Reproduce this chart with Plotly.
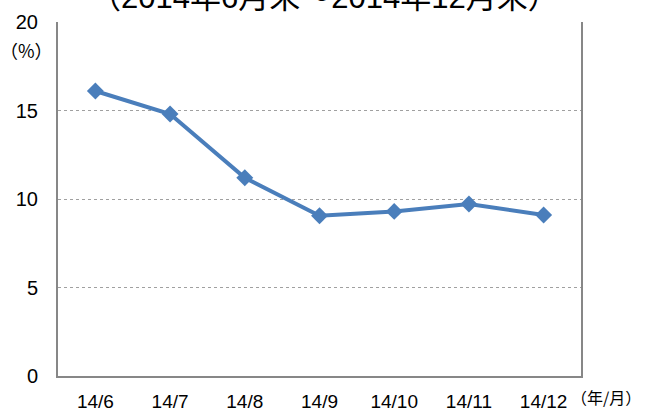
import plotly.graph_objects as go

categories = ["14/6", "14/7", "14/8", "14/9", "14/10", "14/11", "14/12"]
values = [16.1, 14.8, 11.2, 9.05, 9.3, 9.72, 9.1]
y_ticks = [0, 5, 10, 15, 20]
title_text = "（2014年6月末～2014年12月末）"
y_unit = "（%）"
x_unit = "（年/月）"

FONT = "Liberation Sans, Arial, Noto Sans CJK JP, sans-serif"
CJK = "Noto Sans CJK JP, Liberation Sans, sans-serif"

fig = go.Figure()
fig.add_trace(go.Scatter(
    x=categories, y=values, mode="lines+markers",
    line=dict(color="#4A7EBB", width=4),
    marker=dict(symbol="diamond", size=13, color="#4A7EBB"),
    showlegend=False,
))

fig.update_layout(
    width=649, height=411,
    margin=dict(l=58, r=68, t=22, b=35),
    paper_bgcolor="white", plot_bgcolor="white",
    font=dict(family=FONT, color="black"),
    xaxis=dict(
        type="category", range=[-0.5, 6.5], automargin=False,
        showgrid=False, showline=True, linecolor="#878787", linewidth=2,
        ticks="", tickfont=dict(size=19), ticklabelstandoff=7,
    ),
    yaxis=dict(
        range=[0, 20], tickvals=y_ticks, automargin=False,
        showgrid=True, gridcolor="#A0A0A0", griddash="dot", gridwidth=1,
        showline=True, linecolor="#878787", linewidth=2, mirror=True,
        zeroline=False, ticks="", tickfont=dict(size=20), ticklabelstandoff=14,
    ),
)

fig.add_annotation(
    text=title_text, xref="paper", yref="paper", x=0.51, y=1.0,
    yshift=5, xanchor="center", yanchor="bottom",
    showarrow=False, font=dict(size=31, family=FONT),
)
fig.add_annotation(
    text=y_unit, xref="paper", yref="paper", x=0, y=1.0, xshift=-3, yshift=-28,
    xanchor="right", yanchor="middle", showarrow=False,
    font=dict(size=18, family=CJK),
)
fig.add_annotation(
    text=x_unit, xref="paper", yref="paper", x=1.0, y=0, xshift=-12, yshift=-21,
    xanchor="left", yanchor="middle", showarrow=False,
    font=dict(size=16, family=CJK),
)

fig.write_html("out.html", post_script="document.body.style.margin='0';",
               config={"displayModeBar": False})
